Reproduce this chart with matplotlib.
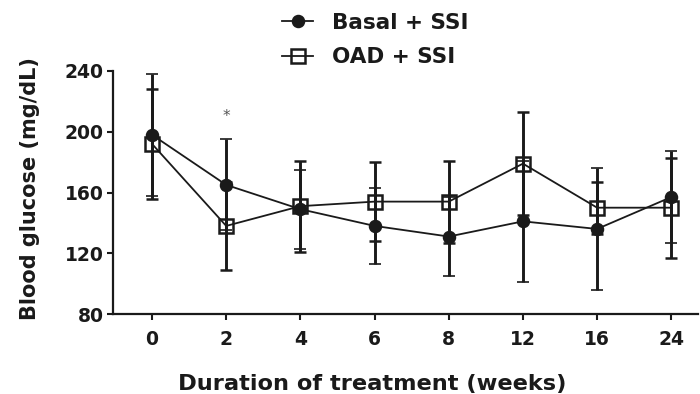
import matplotlib
matplotlib.use("Agg")
import matplotlib.pyplot as plt
import numpy as np

# Mean blood glucose (mg/dL) with SD at each visit
weeks = ["0", "2", "4", "6", "8", "12", "16", "24"]
basal_mean = [198, 165, 149, 138, 131, 141, 136, 157]
basal_sd = [40, 30, 26, 25, 26, 40, 40, 30]
oad_mean = [192, 138, 151, 154, 154, 179, 150, 150]
oad_sd = [36, 29, 30, 26, 27, 34, 17, 33]
series_names = ["Basal + SSI", "OAD + SSI"]
sig_week = "2"
sig_mark = "*"

plt.rcParams["font.family"] = ["DejaVu Sans"]
plt.rcParams["font.weight"] = "bold"

W, H = 700, 394
fig = plt.figure(figsize=(W / 100, H / 100), dpi=100)
ax_l, ax_r, ax_b, ax_t = 113, 698, 314, 71
ax = fig.add_axes([ax_l / W, 1 - ax_b / H, (ax_r - ax_l) / W, (ax_b - ax_t) / H])

x = np.arange(len(weeks))
ink = "#1a1a1a"

err_kw = dict(ecolor=ink, elinewidth=2.1, capsize=4.6, capthick=2.0)
h1 = ax.errorbar(x, basal_mean, yerr=basal_sd, color=ink, lw=1.3,
                 marker="o", ms=8.5, mfc=ink, mec=ink, mew=1.2,
                 label=series_names[0], zorder=3, **err_kw)
h2 = ax.errorbar(x, oad_mean, yerr=oad_sd, color=ink, lw=1.3,
                 marker="s", ms=9.5, mfc="none", mec=ink, mew=1.8,
                 label=series_names[1], zorder=3, **err_kw)

# significance marker above the week-2 bars
i = weeks.index(sig_week)
ax.text(x[i], max(basal_mean[i] + basal_sd[i], oad_mean[i] + oad_sd[i]) + 15,
        sig_mark, ha="center", va="center", fontsize=11, color="#555555",
        fontweight="normal")

ax.set_xlim(-0.526, 7.36)
ax.set_ylim(80, 240)
ax.set_yticks([80, 120, 160, 200, 240])
ax.set_xticks(x)
ax.set_xticklabels(weeks)

for s in ["top", "right"]:
    ax.spines[s].set_visible(False)
for s in ["left", "bottom"]:
    ax.spines[s].set_linewidth(1.6)
    ax.spines[s].set_color(ink)

ax.tick_params(axis="both", length=4.5, width=1.5, color=ink,
               labelsize=13.5, labelcolor=ink)
ax.tick_params(axis="y", pad=2)
ax.tick_params(axis="x", pad=7)

ax.set_xlabel("Duration of treatment (weeks)", fontsize=16.2,
              fontweight="bold", color=ink)
ax.xaxis.set_label_coords((372 - ax_l) / (ax_r - ax_l), -(374 - ax_b) / (ax_b - ax_t))
ax.set_ylabel("Blood glucose (mg/dL)", fontsize=15, fontweight="bold",
              color=ink)
ax.yaxis.set_label_coords(-(ax_l - 40) / (ax_r - ax_l), 0.515)

leg_handles = [h1.lines[0], h2.lines[0]]
leg = fig.legend(leg_handles, series_names, loc="upper left",
                 bbox_to_anchor=(282 / W, 1 - 13 / H), frameon=False,
                 handlelength=1.45, handletextpad=0.85, labelspacing=0.66,
                 borderpad=0, borderaxespad=0,
                 prop={"weight": "bold", "size": 15.5})
for t in leg.get_texts():
    t.set_color(ink)

fig.savefig("out.png", dpi=100)
